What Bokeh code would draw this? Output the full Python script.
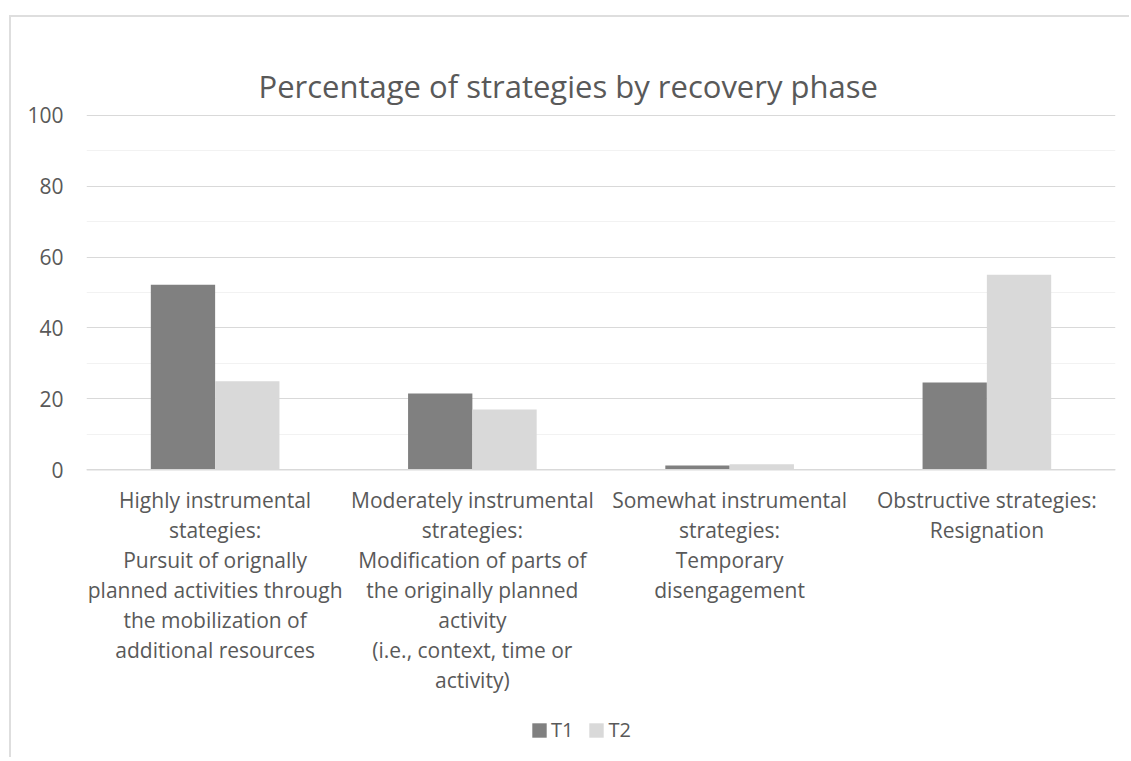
from bokeh.plotting import figure
from bokeh.models import (ColumnDataSource, FactorRange, Range1d, Legend,
                          LegendItem, FixedTicker, Span)
from bokeh.core.properties import value
from bokeh.transform import dodge
from bokeh.embed import file_html
from bokeh.resources import INLINE

# --- data -------------------------------------------------------------
categories = [
    "Highly instrumental\nstategies:\nPursuit of orignally\nplanned activities through\nthe mobilization of\nadditional resources",
    "Moderately instrumental\nstrategies:\nModification of parts of\nthe originally planned\nactivity\n(i.e., context, time or\nactivity)",
    "Somewhat instrumental\nstrategies:\nTemporary\ndisengagement",
    "Obstructive strategies:\nResignation",
]
t1_values = [52.2, 21.5, 1.2, 24.6]
t2_values = [25.0, 17.0, 1.6, 55.0]
series_names = ["T1", "T2"]
y_major_ticks = [0, 20, 40, 60, 80, 100]
y_minor_ticks = [10, 30, 50, 70, 90]
title_text = "Percentage of strategies by recovery phase"

TEXT = "#595959"
FONT = "Open Sans"

# --- layout -----------------------------------------------------------
W, H = 1120, 742
FRAME_TOP = 96          # px from the top of the figure to the plot frame
ZERO_PX = 452.3         # px from the top of the figure to the value 0
TOP_VAL = 100.5
px_per_unit = (ZERO_PX - FRAME_TOP) / TOP_VAL
bottom_val = -(H - ZERO_PX) / px_per_unit   # frame continues below 0 for labels + legend

src = ColumnDataSource(dict(cat=categories, t1=t1_values, t2=t2_values,
                            base=[0] * len(categories)))

p = figure(
    x_range=FactorRange(*categories, range_padding=0),
    y_range=Range1d(bottom_val, TOP_VAL),
    width=W, height=H,
    output_backend="svg", toolbar_location=None,
    x_axis_location=None,
    min_border_left=75, min_border_right=W - 75 - 1029,
    min_border_top=FRAME_TOP, min_border_bottom=0,
    margin=(15, 0, 0, 9),
    styles={"border-top": "2px solid #dedede", "border-left": "2px solid #dedede"},
)
p.outline_line_color = None
p.background_fill_color = "white"
p.border_fill_color = "white"

# chart title
p.title.text = title_text
p.title.align = "left"
p.title.offset = 172
p.title.standoff = 14
p.title.text_font = FONT
p.title.text_font_size = "31px"
p.title.text_font_style = "normal"
p.title.text_color = TEXT

# y axis: labels only, with major and minor horizontal gridlines
p.yaxis.ticker = FixedTicker(ticks=y_major_ticks, minor_ticks=y_minor_ticks)
p.yaxis.axis_line_color = None
p.yaxis.major_tick_line_color = None
p.yaxis.minor_tick_line_color = None
p.yaxis.major_label_text_font = FONT
p.yaxis.major_label_text_font_size = "21px"
p.yaxis.major_label_text_color = TEXT
p.yaxis.major_label_standoff = 17

p.ygrid.grid_line_color = "#D9D9D9"
p.ygrid.grid_line_width = 1.2
p.ygrid.minor_grid_line_color = "#F2F2F2"
p.ygrid.minor_grid_line_width = 1.2
p.xgrid.grid_line_color = None

# bars
bar_w = 0.25
r1 = p.vbar(x=dodge("cat", -bar_w / 2, range=p.x_range), top="t1", width=bar_w,
            source=src, fill_color="#808080", line_color=None)
r2 = p.vbar(x=dodge("cat", bar_w / 2, range=p.x_range), top="t2", width=bar_w,
            source=src, fill_color="#D9D9D9", line_color=None)

# category baseline
p.add_layout(Span(location=0, dimension="width", line_color="#D9D9D9", line_width=1.5))

# category labels hanging under the baseline
p.text(x="cat", y="base", text="cat", source=src, y_offset=16,
       text_align="center", text_baseline="top",
       text_font=value(FONT), text_font_size="21px", text_line_height=1.07,
       text_color=TEXT)

# legend under the category labels
legend = Legend(
    items=[LegendItem(label=series_names[0], renderers=[r1]),
           LegendItem(label=series_names[1], renderers=[r2])],
    location=(444, 16), orientation="horizontal",
    border_line_color=None, background_fill_alpha=0,
    glyph_width=18, glyph_height=18, label_height=20,
    label_text_font=FONT, label_text_font_size="20px", label_text_color=TEXT,
    label_standoff=3, spacing=14, padding=0, margin=0,
)
p.add_layout(legend)

open("out.html", "w").write(file_html(p, INLINE))
